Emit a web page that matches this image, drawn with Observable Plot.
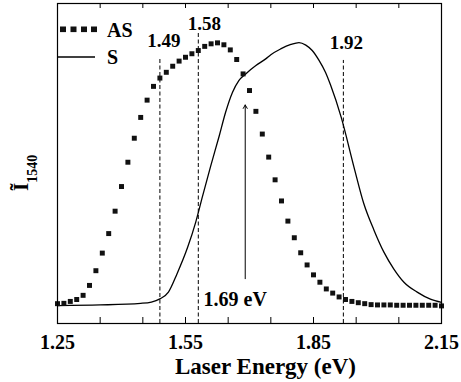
<!DOCTYPE html>
<html><head><meta charset="utf-8">
<script src="https://cdn.jsdelivr.net/npm/d3@7"></script>
<script src="https://cdn.jsdelivr.net/npm/@observablehq/plot@0.6"></script>
<style>body{margin:0;background:#fff} svg{display:block}</style>
</head><body><div id="chart"></div>
<script>
// Anti-Stokes (AS) excitation spectrum: squares
const asEnergy = [1.250,1.265,1.280,1.295,1.310,1.325,1.340,1.355,1.370,1.385,
  1.400,1.415,1.430,1.445,1.460,1.475,1.490,1.505,1.520,1.535,
  1.550,1.565,1.580,1.595,1.610,1.625,1.640,1.655,1.670,1.685,
  1.700,1.715,1.730,1.745,1.760,1.775,1.790,1.805,1.820,1.835,
  1.850,1.865,1.880,1.895,1.910,1.925,1.940,1.955,1.970,1.985,
  2.000,2.015,2.030,2.045,2.060,2.075,2.090,2.105,2.120,2.135,2.150];
const asIntensity = [6.2,6.3,6.9,7.5,8.8,11.9,16.5,22.0,28.1,35.1,
  42.8,50.4,57.9,64.4,69.8,74.1,76.7,78.5,80.4,82.0,
  83.2,84.3,85.3,86.6,87.4,87.7,87.1,85.5,82.5,78.0,
  72.8,66.3,59.2,52.0,44.9,38.3,32.0,26.8,22.1,18.3,
  15.2,12.9,10.8,9.5,8.3,7.5,6.9,6.5,6.2,5.9,
  5.8,5.8,5.8,5.7,5.7,5.7,5.7,5.7,5.7,5.7,5.5];

// Stokes (S) excitation spectrum: solid line
const sEnergy = [1.25,1.35,1.445,1.47,1.49,1.51,1.53,1.555,1.574,1.590,1.609,1.629,1.644,1.660,1.675,1.691,1.715,1.738,1.750,1.773,1.797,1.816,1.832,1.847,1.863,1.878,1.890,1.915,1.945,1.968,1.992,2.015,2.038,2.062,2.093,2.124,2.15];
const sIntensity = [5.6,5.8,6.3,6.7,7.7,9.8,15.5,23.8,31.7,39.8,49.2,58.6,66.0,72.2,75.9,78.0,80.6,82.7,84.0,85.8,87.2,87.8,87.0,85.3,82.2,78.5,74.5,64.4,48.8,37.4,29.1,22.3,17.1,12.9,9.8,7.6,6.6];

// Marked energies (dashed lines) and their labels
const markEnergy = [1.49, 1.58, 1.92];
const markTop = [83.2, 91.0, 82.2];
const markLabel = ["1.49", "1.58", "1.92"];
const markLabelY = [86.3, 91.6, 85.8];
const markLabelDx = [4, 6, 3];

// Arrow annotation
const arrowEnergy = [1.69];
const arrowFrom = [14];
const arrowTo = [68.3];
const arrowLabel = ["1.69 eV"];
const arrowLabelY = [5.6];

// Axis ticks and titles
const xTickMinor = [1.25,1.35,1.45,1.55,1.65,1.75,1.85,1.95,2.05,2.15];
const xTickLabels = [1.25,1.55,1.85,2.15];
const xTitle = "Laser Energy (eV)";
const legendNames = ["AS", "S"];

const serif = "'Liberation Serif','Times New Roman',serif";
const asData = asEnergy.map((e,i)=>({e, v: asIntensity[i]}));
const sData = sEnergy.map((e,i)=>({e, v: sIntensity[i]}));
const marks = markEnergy.map((e,i)=>({e, top: markTop[i], label: markLabel[i], ly: markLabelY[i], dx: markLabelDx[i]}));
const arrows = arrowEnergy.map((e,i)=>({e, y1: arrowFrom[i], y2: arrowTo[i], label: arrowLabel[i], ly: arrowLabelY[i]}));

const plot = Plot.plot({
  width: 461, height: 382,
  marginLeft: 57, marginRight: 20, marginTop: 3, marginBottom: 59,
  style: {fontFamily: serif, background: "#fff", color: "#000"},
  x: {domain: [1.25, 2.15]},
  y: {domain: [0, 100], axis: null},
  marks: [
    Plot.tickX(xTickMinor, {x: d => d, insetTop: 314, stroke: "#000", strokeWidth: 1}),
    Plot.tickX(xTickMinor, {x: d => d, insetBottom: 315, stroke: "#000", strokeWidth: 1}),
    Plot.axisX({ticks: xTickLabels, tickSize: 0, tickPadding: 11, tickFormat: d3.format(".2f"),
      fontSize: 20, fontWeight: "bold", fontFamily: serif, label: null}),
    Plot.text([xTitle], {frameAnchor: "bottom", dx: 16, dy: 50, lineAnchor: "bottom", fontSize: 23, fontWeight: "bold", fontFamily: serif, fill: "#000"}),
    Plot.ruleX(marks, {x: "e", y1: 0, y2: "top", stroke: "#000", strokeWidth: 1, strokeDasharray: "4,2.5"}),
    Plot.text(marks, {x: "e", y: "ly", text: "label", lineAnchor: "bottom", fontSize: 19, fontWeight: "bold", fontFamily: serif, fill: "#000"}),
    Plot.line(sData, {x: "e", y: "v", curve: "monotone-x", stroke: "#000", strokeWidth: 1.3}),
    Plot.dot(asData, {x: "e", y: "v", symbol: "square", r: 2.8, fill: "#111", stroke: "none"}),
    Plot.arrow(arrows, {x: "e", y1: "y1", y2: "y2", stroke: "#000", strokeWidth: 1, headLength: 6, headAngle: 60}),
    Plot.text(arrows, {x: "e", y: "ly", text: "label", dx: -10, lineAnchor: "bottom", fontSize: 20, fontWeight: "bold", fontFamily: serif, fill: "#000"}),
    Plot.frame({stroke: "#000", strokeWidth: 1.2})
  ]
});
document.getElementById("chart").append(plot);

// per-label horizontal offsets for the dashed-line labels
const svg = d3.select(plot);
svg.selectAll("text").filter(function(){ return markLabel.includes(this.textContent); })
  .each(function(){ const i = markLabel.indexOf(this.textContent); d3.select(this).attr("dx", markLabelDx[i]); });

// Y label: Ĩ with subscript 1540, rotated
const yl = svg.append("text").attr("transform", "translate(28,191) rotate(-90)")
  .attr("text-anchor", "start")
  .attr("font-family", serif).attr("font-weight", "bold").attr("fill", "#000");
yl.append("tspan").attr("font-size", 21).text("Ĩ");
yl.append("tspan").attr("font-size", 14).attr("dy", 9).text("1540");

// Legend (inside the frame, top-left)
const lg = svg.append("g").attr("font-family", serif).attr("font-weight", "bold").attr("fill", "#000").attr("text-anchor", "start");
[63, 73.5, 84, 94].forEach(cx => lg.append("rect").attr("x", cx - 3).attr("y", 26.5).attr("width", 6).attr("height", 5.6).attr("fill", "#111"));
lg.append("text").attr("x", 107).attr("y", 36.5).attr("font-size", 20).text(legendNames[0]);
lg.append("line").attr("x1", 57).attr("x2", 95).attr("y1", 57).attr("y2", 57).attr("stroke", "#000").attr("stroke-width", 1.3);
lg.append("text").attr("x", 107).attr("y", 64).attr("font-size", 20).text(legendNames[1]);
</script></body></html>
